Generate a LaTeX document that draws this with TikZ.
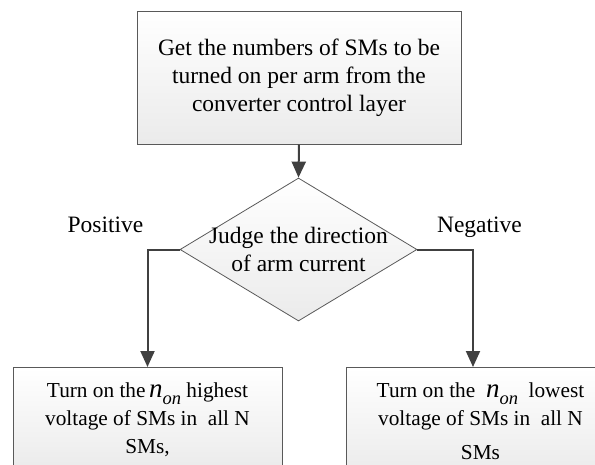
\documentclass[tikz,border=0pt]{standalone}
\usepackage{fontspec}
\setmainfont{Liberation Serif}
\usetikzlibrary{shapes.geometric,arrows.meta}
\newcommand{\nOn}{\textit{\fontsize{27}{28}\selectfont n}\raisebox{-7pt}{\fontsize{18.5}{20}\selectfont\textit{on}}}

\begin{document}
\begin{tikzpicture}[x=1pt,y=-1pt,
    stepbox/.style={draw=black!65,line width=1pt,top color=white,bottom color=black!8,align=center,inner sep=0pt},
    decision/.style={diamond,draw=black!65,line width=0.8pt,top color=white,bottom color=black!8,
      minimum width=237pt,minimum height=143pt,inner sep=0pt},
    flow/.style={draw=black!75,line width=2pt,-{Triangle[length=16pt,width=14pt]}},
    bigtext/.style={font=\fontsize{23.5}{28}\selectfont},
    smalltext/.style={font=\fontsize{21.3}{28}\selectfont}]
  \clip (0,0) rectangle (595,464);
  \node[stepbox,bigtext,minimum width=324pt,minimum height=133pt] (get) at (299,77.5)
    {Get the numbers of SMs to be\\turned on per arm from the\\converter control layer};
  \node[decision] (judge) at (298.5,249.5) {};
  \node[bigtext,align=center] (judgetext) at (judge.center) {Judge the direction\\of arm current};
  \node[stepbox,smalltext,anchor=north,minimum width=269pt,minimum height=104pt] (high) at (147.5,367)
    {Turn on the\,\nOn{} highest\\voltage of SMs in\ \ all N\\SMs,};
  \node[stepbox,smalltext,anchor=north,minimum width=269pt,minimum height=108pt] (low) at (480.5,367)
    {Turn on the \ \nOn\ \ lowest\\voltage of SMs in\ \ all N\\[6pt]SMs};
  % labels of the two branches
  \node[bigtext,anchor=base] (pos) at (105.5,232) {Positive};
  \node[bigtext,anchor=base] (neg) at (479.5,232) {Negative};
  \draw[flow] (get.south) -- (judge.north);
  \draw[flow] (judge.west) -| (high.north);
  \draw[flow] (judge.east) -| ([xshift=-7.5pt]low.north);
\end{tikzpicture}
\end{document}
